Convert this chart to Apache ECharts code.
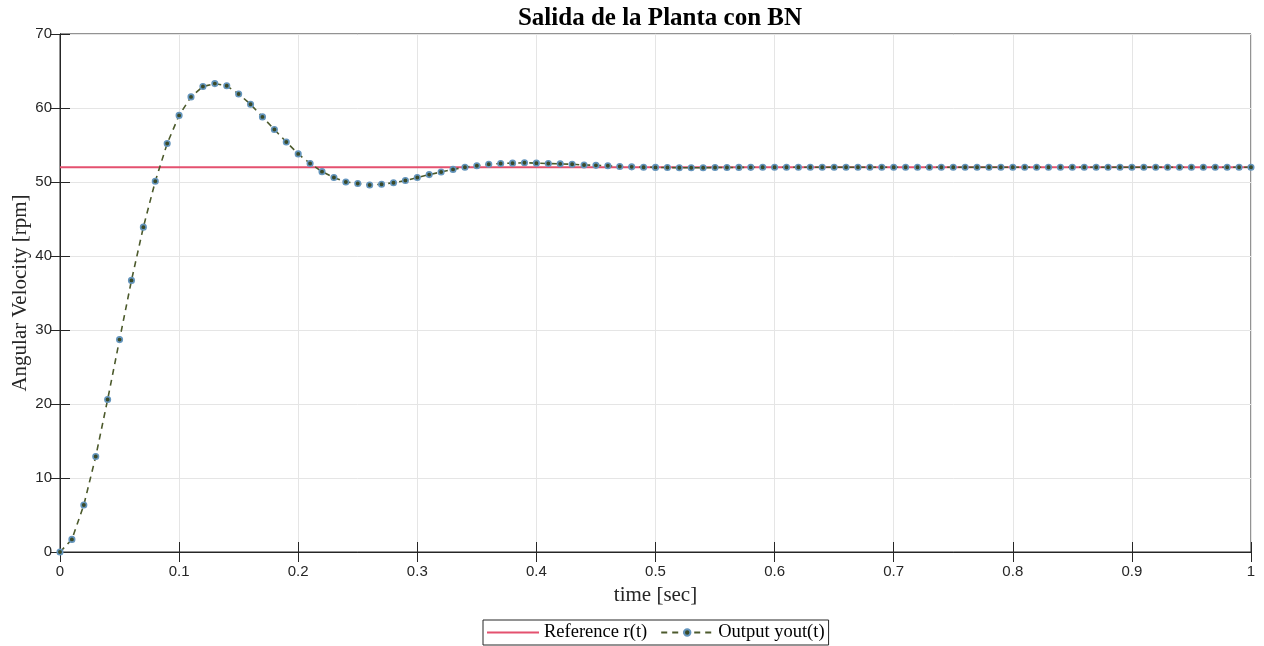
<!DOCTYPE html>
<html>
<head>
<meta charset="utf-8">
<script src="https://cdn.jsdelivr.net/npm/echarts@6/dist/echarts.min.js"></script>
<style>html,body{margin:0;padding:0;background:#fff}#c{width:1264px;height:646px}</style>
</head>
<body>
<div id="c"></div>
<script>
const time = [0,0.01,0.02,0.03,0.04,0.05,0.06,0.07,0.08,0.09,0.10,0.11,0.12,0.13,0.14,0.15,0.16,0.17,0.18,0.19,0.20,0.21,0.22,0.23,0.24,0.25,0.26,0.27,0.28,0.29,0.30,0.31,0.32,0.33,0.34,0.35,0.36,0.37,0.38,0.39,0.40,0.41,0.42,0.43,0.44,0.45,0.46,0.47,0.48,0.49,0.50,0.51,0.52,0.53,0.54,0.55,0.56,0.57,0.58,0.59,0.60,0.61,0.62,0.63,0.64,0.65,0.66,0.67,0.68,0.69,0.70,0.71,0.72,0.73,0.74,0.75,0.76,0.77,0.78,0.79,0.80,0.81,0.82,0.83,0.84,0.85,0.86,0.87,0.88,0.89,0.90,0.91,0.92,0.93,0.94,0.95,0.96,0.97,0.98,0.99,1.00];
const output = [0,1.7,6.35,12.9,20.6,28.7,36.7,43.9,50.1,55.2,59.0,61.5,62.9,63.3,63.0,61.9,60.5,58.8,57.1,55.4,53.8,52.5,51.4,50.6,50.0,49.8,49.6,49.7,49.9,50.2,50.6,51.0,51.35,51.7,52.0,52.2,52.4,52.5,52.55,52.6,52.55,52.5,52.45,52.4,52.3,52.25,52.2,52.1,52.05,52.0,51.97,51.95,51.93,51.93,51.93,51.95,51.96,51.97,51.98,51.99,52,52,52,52,52,52,52,52,52,52,52,52,52,52,52,52,52,52,52,52,52,52,52,52,52,52,52,52,52,52,52,52,52,52,52,52,52,52,52,52,52];
const refTime = [0, 1];
const refValue = [52, 52];
const xTicks = {min: 0, max: 1, interval: 0.1};
const yTicks = {min: 0, max: 70, interval: 10};
const seriesNames = ['Reference r(t)', 'Output yout(t)'];

const chart = echarts.init(document.getElementById('c'), null, {renderer: 'canvas'});
const tickFont = {color: '#262626', fontSize: 15, fontFamily: 'Liberation Sans, Arial, sans-serif'};
const serif = 'Liberation Serif, Times New Roman, serif';
const axisLineStyle = {color: '#262626', width: 1};
const refColor = '#e4516f';
chart.setOption({
  backgroundColor: '#ffffff',
  animation: false,
  title: {
    text: 'Salida de la Planta con BN', left: 655, textAlign: 'center', top: 1,
    textStyle: {fontFamily: serif, fontWeight: 'bold', fontSize: 25, color: '#000'}
  },
  grid: {left: 60, right: 13, top: 34, bottom: 94, show: true, borderColor: '#262626', borderWidth: 1,
         containLabel: false, outerBoundsMode: 'none'},
  legend: {
    data: [
      {name: seriesNames[0], icon: 'path://M0,0 H52 V2 H0 Z'},
      {name: seriesNames[1]}
    ],
    bottom: 1, left: 483,
    borderColor: '#262626', borderWidth: 1, borderRadius: 0, padding: [3, 4, 3, 4],
    itemWidth: 52, itemHeight: 8, itemGap: 13,
    textStyle: {fontFamily: serif, fontSize: 18.5, color: '#000'}
  },
  xAxis: [{
    type: 'value', min: xTicks.min, max: xTicks.max, interval: xTicks.interval,
    name: 'time [sec]', nameLocation: 'middle', nameGap: 33, nameMoveOverlap: false,
    nameTextStyle: {fontFamily: serif, fontSize: 21, color: '#262626'},
    axisLine: {show: true, lineStyle: axisLineStyle},
    axisTick: {show: true, inside: true, length: 10, lineStyle: axisLineStyle},
    axisLabel: Object.assign({margin: 12, formatter: v => String(+v.toFixed(1))}, tickFont),
    splitLine: {show: true, lineStyle: {color: '#e5e5e5', width: 1}}
  }, {
    type: 'value', position: 'top', min: xTicks.min, max: xTicks.max, interval: xTicks.interval,
    axisLine: {show: true, lineStyle: axisLineStyle},
    axisTick: {show: true, inside: true, length: 10, lineStyle: axisLineStyle},
    axisLabel: {show: false}, splitLine: {show: false}
  }],
  yAxis: [{
    type: 'value', min: yTicks.min, max: yTicks.max, interval: yTicks.interval,
    name: 'Angular Velocity [rpm]', nameLocation: 'middle', nameGap: 29, nameMoveOverlap: false,
    nameTextStyle: {fontFamily: serif, fontSize: 21, color: '#262626'},
    axisLine: {show: true, lineStyle: axisLineStyle},
    axisTick: {show: true, inside: true, length: 10, lineStyle: axisLineStyle},
    axisLabel: Object.assign({margin: 8}, tickFont),
    splitLine: {show: true, lineStyle: {color: '#e5e5e5', width: 1}}
  }, {
    type: 'value', position: 'right', min: yTicks.min, max: yTicks.max, interval: yTicks.interval,
    axisLine: {show: true, lineStyle: axisLineStyle},
    axisTick: {show: true, inside: true, length: 10, lineStyle: axisLineStyle},
    axisLabel: {show: false}, splitLine: {show: false}
  }],
  series: [{
    name: seriesNames[0], type: 'line',
    data: refTime.map((t, i) => [t, refValue[i]]),
    symbol: 'none', lineStyle: {color: refColor, width: 2},
    itemStyle: {color: refColor}, z: 2
  }, {
    name: seriesNames[1], type: 'line',
    data: time.map((t, i) => [t, output[i]]),
    symbol: 'circle', symbolSize: 5.5, showAllSymbol: true,
    lineStyle: {color: '#4c5a2c', width: 1.6, type: [6, 5]},
    itemStyle: {color: '#3a4a28', borderColor: '#6495bd', borderWidth: 1.6},
    z: 3
  }]
});
</script>
</body>
</html>
